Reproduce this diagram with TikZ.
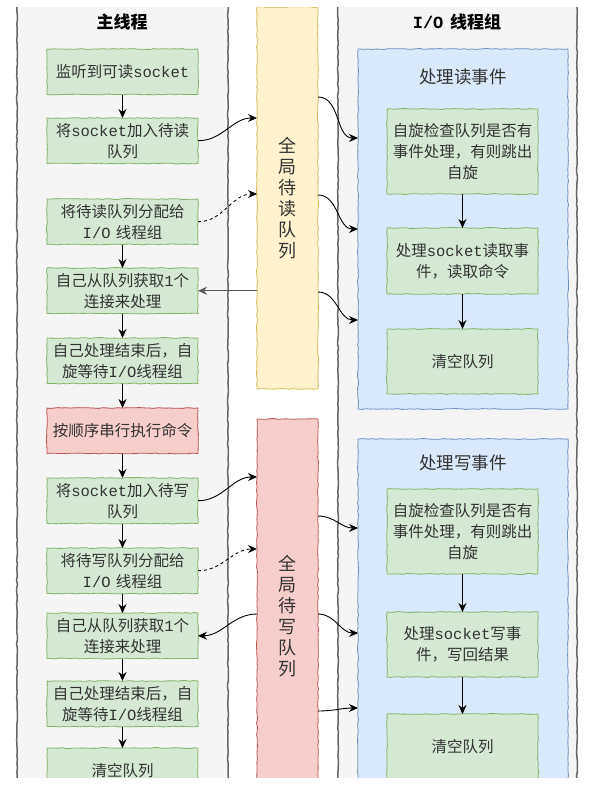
\documentclass[tikz,border=0pt]{standalone}
\usepackage{fontspec}
\setmainfont{Noto Sans CJK SC}
\setmonofont{Liberation Mono}
\usetikzlibrary{positioning,arrows.meta,decorations.pathmorphing}

\definecolor{lanefill}{HTML}{F5F5F5}
\definecolor{laneline}{HTML}{666666}
\definecolor{stepfill}{HTML}{D5E8D4}
\definecolor{stepline}{HTML}{82B366}
\definecolor{cmdfill}{HTML}{F8CECC}
\definecolor{cmdline}{HTML}{B85450}
\definecolor{rqfill}{HTML}{FFF2CC}
\definecolor{rqline}{HTML}{D6B656}
\definecolor{iofill}{HTML}{DAE8FC}
\definecolor{ioline}{HTML}{6C8EBF}
\definecolor{txt}{HTML}{333333}

\begin{document}
\begin{tikzpicture}[x=1pt, y=-1pt, node distance=24pt,
  rough/.style={decorate, decoration={random steps, segment length=4pt, amplitude=0.45pt}},
  stepbox/.style={rough, draw=stepline, fill=stepfill, line width=0.8pt,
    minimum width=151pt, minimum height=45.5pt, text width=150pt, align=center,
    inner sep=0pt, outer sep=0pt, text=txt, font=\fontsize{15.5}{21}\selectfont},
  cmdbox/.style={stepbox, draw=cmdline, fill=cmdfill},
  queue/.style={rough, line width=0.8pt, minimum width=61pt, inner sep=0pt, outer sep=0pt,
    align=center, text=txt, font=\fontsize{18}{21}\selectfont},
  iogroup/.style={rough, draw=ioline, fill=iofill, line width=0.8pt,
    minimum width=210pt, inner sep=0pt, outer sep=0pt},
  lanetitle/.style={font=\fontsize{17}{20}\selectfont\bfseries},
  grouptitle/.style={font=\fontsize{17.5}{20}\selectfont, text=txt},
  flow/.style={-{Stealth[length=9pt,width=8pt,inset=3pt]}, line width=0.9pt},
]
\pgfmathsetseed{7}
\useasboundingbox (0,0) rectangle (592,787);
\begin{scope}
  \clip (0,7) rectangle (592,777);

  % Lanes
  \fill[lanefill] (17,0) rectangle (228,787);
  \fill[lanefill] (338,0) rectangle (577,787);
  \draw[laneline, rough, line width=1.5pt] (17,0) -- (17,787) (228,0) -- (228,787);
  \draw[laneline, rough, line width=1.5pt] (338,0) -- (338,787) (577,0) -- (577,787);

  \node[lanetitle] (mainT) at (122,22) {主线程};
  \node[lanetitle] (ioT)   at (457,22) {{\ttfamily I/O}\hspace{0.4em}线程组};

  % Main thread
  \node[stepbox] (listen) at (122.5,71.75) {监听到可读{\ttfamily socket}};
  \node[stepbox, below=23.5pt of listen]    (addRead)   {将{\ttfamily socket}加入待读\\队列};
  \node[stepbox, below=35.5pt of addRead]   (giveRead)  {将待读队列分配给\\{\ttfamily I/O} 线程组};
  \node[stepbox, below=23.5pt of giveRead]  (takeRead)  {自己从队列获取{\ttfamily 1}个\\连接来处理};
  \node[stepbox, below=24.5pt of takeRead]  (waitRead)  {自己处理结束后，自\\旋等待{\ttfamily I/O}线程组};
  \node[cmdbox,  below=24.5pt of waitRead]  (exec)      {按顺序串行执行命令};
  \node[stepbox, below=24.5pt of exec]      (addWrite)  {将{\ttfamily socket}加入待写\\队列};
  \node[stepbox, below=24.5pt of addWrite]  (giveWrite) {将待写队列分配给\\{\ttfamily I/O} 线程组};
  \node[stepbox, below=19.5pt of giveWrite] (takeWrite) {自己从队列获取{\ttfamily 1}个\\连接来处理};
  \node[stepbox, below=22.5pt of takeWrite] (waitWrite) {自己处理结束后，自\\旋等待{\ttfamily I/O}线程组};
  \node[stepbox, below=21.5pt of waitWrite] (clearMain) {清空队列};

  % Global queues
  \node[queue, draw=rqline,  fill=rqfill,  minimum height=382pt] (readQ)  at (287.5,198) {全\\局\\待\\读\\队\\列};
  \node[queue, draw=cmdline, fill=cmdfill, minimum height=394pt] (writeQ) at (287.5,616) {全\\局\\待\\写\\队\\列};

  % I/O thread group
  \node[iogroup, minimum height=360pt] (readG) at (463,229) {};
  \node[grouptitle] (readGT) at ([yshift=-28pt]readG.north) {处理读事件};
  \node[stepbox, minimum height=85pt] (spinRead) at (462.5,151.5) {自旋检查队列是否有\\事件处理，有则跳出\\自旋};
  \node[stepbox, minimum height=66pt, below=34pt of spinRead] (doRead)    {处理{\ttfamily socket}读取事\\件，读取命令};
  \node[stepbox, minimum height=65pt, below=35pt of doRead]   (clearRead) {清空队列};

  \node[iogroup, minimum height=360pt] (writeG) at (463,619) {};
  \node[grouptitle] (writeGT) at ([yshift=-24pt]writeG.north) {处理写事件};
  \node[stepbox, minimum height=85pt] (spinWrite) at (462.5,531.5) {自旋检查队列是否有\\事件处理，有则跳出\\自旋};
  \node[stepbox, minimum height=65pt, below=38pt of spinWrite] (doWrite)    {处理{\ttfamily socket}写事\\件，写回结果};
  \node[stepbox, minimum height=65pt, below=37pt of doWrite]   (clearWrite) {清空队列};

  % Connect the steps
  \foreach \a/\b in {listen/addRead, giveRead/takeRead, takeRead/waitRead, waitRead/exec,
                     exec/addWrite, addWrite/giveWrite, giveWrite/takeWrite,
                     takeWrite/waitWrite, waitWrite/clearMain,
                     spinRead/doRead, doRead/clearRead, spinWrite/doWrite, doWrite/clearWrite}
    \draw[flow] (\a) -- (\b);

  % Read queue
  \draw[flow] (addRead.east) to[out=0,in=180] ([yshift=80pt]readQ.west);
  \draw[flow, dashed] (giveRead.east) to[out=0,in=180] ([yshift=4pt]readQ.west);
  \draw[flow, black!65, line width=1.3pt] (readQ.west |- takeRead.east) -- (takeRead.east);
  \draw[flow] ([yshift=101pt]readQ.east) to[out=0,in=180] ([yshift=91pt]readG.west);
  \draw[flow] ([yshift=3pt]readQ.east)   to[out=0,in=180] (readG.west);
  \draw[flow] ([yshift=-94pt]readQ.east) to[out=0,in=180] ([yshift=-91pt]readG.west);

  % Write queue
  \draw[flow] (addWrite.east) to[out=0,in=180] ([yshift=139pt]writeQ.west);
  \draw[flow, dashed] (giveWrite.east) to[out=0,in=180] ([yshift=67pt]writeQ.west);
  \draw[flow] ([yshift=2pt]writeQ.west) to[out=180,in=0] (takeWrite.east);
  \draw[flow] ([yshift=100pt]writeQ.east) to[out=0,in=180] ([yshift=91pt]writeG.west);
  \draw[flow] ([yshift=2pt]writeQ.east)   to[out=0,in=180] ([yshift=-14pt]writeG.west);
  \draw[flow] ([yshift=-95pt]writeQ.east) to[out=0,in=180] ([yshift=-89pt]writeG.west);
\end{scope}
\end{tikzpicture}
\end{document}
